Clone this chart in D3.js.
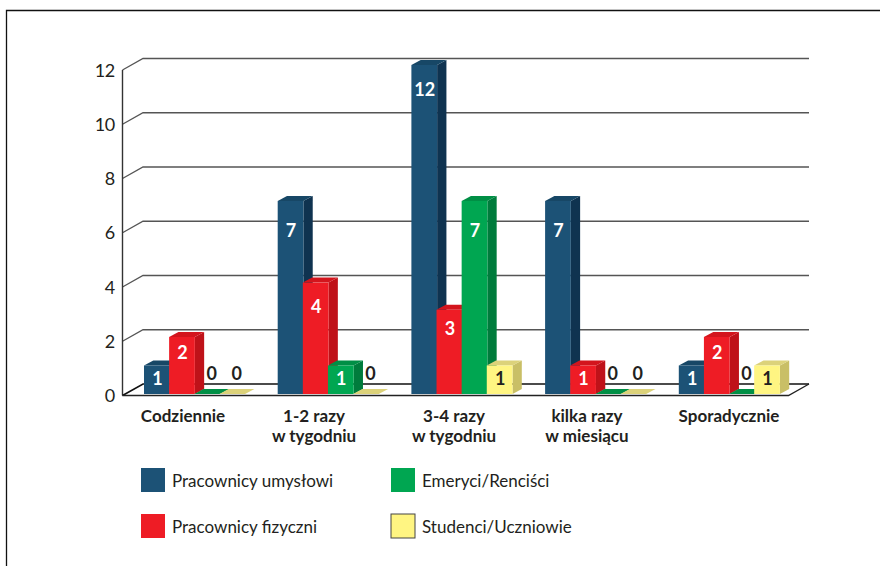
<!DOCTYPE html>
<html><head><meta charset="utf-8">
<script src="https://cdn.jsdelivr.net/npm/d3@7/dist/d3.min.js"></script>
<style>html,body{margin:0;background:#fff}svg{display:block}text{font-family:Lato,"Open Sans",sans-serif}</style>
</head><body><div id="c"></div>
<script>
const categories = ["Codziennie", "1-2 razy\nw tygodniu", "3-4 razy\nw tygodniu", "kilka razy\nw miesiącu", "Sporadycznie"];
const seriesNames = ["Pracownicy umysłowi", "Pracownicy fizyczni", "Emeryci/Renciści", "Studenci/Uczniowie"];
const umyslowi = [1, 7, 12, 7, 1];
const fizyczni = [2, 4, 3, 1, 2];
const emeryci = [0, 1, 7, 0, 0];
const studenci = [0, 0, 1, 0, 1];
const yTicks = [0, 2, 4, 6, 8, 10, 12];
const seriesValues = [umyslowi, fizyczni, emeryci, studenci];
const colors = [
 {front:"#1c5276", side:"#0f3350", top:"#174766", label:"#fff"},
 {front:"#ee1c25", side:"#bf1219", top:"#d3151d", label:"#fff"},
 {front:"#00a651", side:"#007c3c", top:"#008f45", label:"#fff"},
 {front:"#fff582", side:"#c9bf66", top:"#dcd27a", label:"#231f20"}
];
const W=880,H=566;
const svg=d3.select("#c").append("svg").attr("width",W).attr("height",H);
const ink="#231f20";
// frame
svg.append("path").attr("d","M6.5,566V10.5H880").attr("fill","none").attr("stroke","#111").attr("stroke-width",1.3);

const wallDX=20.5, wallDY=-11.5, barDX=9.3, barDY=-5;
const axisY=d3.scaleLinear().domain([0,12]).range([395.5,70]);
const barY=d3.scaleLinear().domain([0,1,2,12]).range([394,365.5,337,65]);
const groupX=d3.scaleBand().domain(d3.range(categories.length)).range([122.5,791]);
const seriesX=d3.scaleBand().domain(d3.range(4)).range([21.5,122]);
const labelX=d3.scaleOrdinal().domain(d3.range(5)).range([183,314,454,587,729]);

// grid
const axis=svg.append("g");
yTicks.forEach(t=>{
  const y=axisY(t);
  if(t>0){
    axis.append("path").attr("d",`M122.5,${y}L${122.5+wallDX},${y+wallDY}H809`).attr("fill","none").attr("stroke","#555").attr("stroke-width",1.3);
  }
  axis.append("text").attr("x",114.5).attr("y",y+6.5).attr("text-anchor","end").attr("font-size",18).attr("font-family","'Open Sans'").attr("letter-spacing",-0.6).attr("fill",ink).text(t);
});
axis.append("path").attr("d",`M122.5,${axisY(12)}V${axisY(0)}`).attr("stroke","#333").attr("stroke-width",1.4).attr("fill","none");
// floor
const y0=axisY(0);
axis.append("path").attr("d",`M122.5,${y0}L${122.5+wallDX},${y0+wallDY}H809`).attr("fill","none").attr("stroke","#111").attr("stroke-width",1.6);
axis.append("path").attr("d",`M122.5,${y0}H788.5L809,${y0+wallDY}`).attr("fill","none").attr("stroke","#222").attr("stroke-width",1.4);

// bars
const barsG=svg.append("g"), labels=svg.append("g");
const offsets=v=>v<=1?13:v===2?15:v===3?19:v===4?24:v===7?29:24;
categories.forEach((c,g)=>{
  seriesValues.forEach((vals,s)=>{
    const v=vals[g], x0=groupX(g)+seriesX(s), w=seriesX.bandwidth()+0.6, yt=barY(v), yb=barY(0), col=colors[s];
    const b=barsG.append("g");
    b.append("path").attr("fill",col.side).attr("d",`M${x0+w},${yb}L${x0+w+barDX},${yb+barDY}V${yt+barDY}L${x0+w},${yt}Z`);
    b.append("path").attr("fill",v===0&&s===3?"#dcd27a":col.top).attr("d",`M${x0},${yt}L${x0+barDX},${yt+barDY}H${x0+w+barDX}L${x0+w},${yt}Z`);
    if(v>0) b.append("rect").attr("x",x0).attr("y",yt).attr("width",w).attr("height",yb-yt).attr("fill",col.front);
    const isZero=v===0;
    labels.append("text").attr("text-anchor","middle").attr("font-weight",700).attr("font-size",18).attr("font-family","'Open Sans'")
      .attr("x",x0+w/2+(isZero?4.5:0.5)).attr("y",isZero?379.5:yt+offsets(v)+6.5)
      .attr("fill",isZero?ink:col.label).text(v);
  });
  const lines=c.split("\n");
  const t=svg.append("text").attr("text-anchor","middle").attr("font-weight",700).attr("font-size",17).attr("fill",ink);
  lines.forEach((l,i)=>t.append("tspan").attr("x",labelX(g)).attr("y",422+i*19.5).text(l));
});

// legend
const legX=d3.scaleOrdinal().domain([0,1]).range([141,391]);
const legY=d3.scaleOrdinal().domain([0,1]).range([468,514]);
seriesNames.forEach((n,i)=>{
  const col=i<2?0:1, row=i%2;
  svg.append("rect").attr("x",legX(col)).attr("y",legY(row)).attr("width",24).attr("height",24)
    .attr("fill",colors[i].front).attr("stroke",i===3?"#444":"none").attr("stroke-width",i===3?1:0);
  svg.append("text").attr("x",legX(col)+31).attr("y",legY(row)+19).attr("font-size",17).attr("fill",ink).text(n);
});
</script></body></html>
